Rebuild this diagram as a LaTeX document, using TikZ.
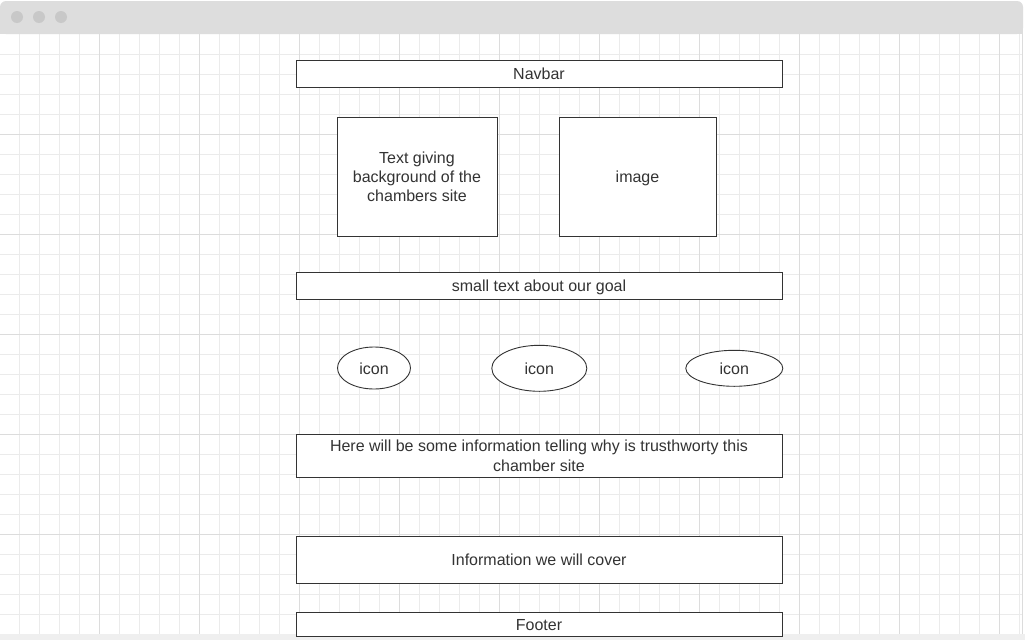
\documentclass[tikz,border=0pt]{standalone}
\usepackage{fontspec}
\setmainfont{Liberation Sans}
\usetikzlibrary{shapes.geometric}
\definecolor{txt}{HTML}{333333}
\definecolor{stroke}{HTML}{333333}
\definecolor{minorgrid}{HTML}{EBEBEB}
\definecolor{majorgrid}{HTML}{DCDCDC}
\definecolor{barfill}{HTML}{DDDDDD}
\definecolor{dotfill}{HTML}{C8C8C8}
\definecolor{stripfill}{HTML}{EFEFEF}
\begin{document}
\begin{tikzpicture}[x=1pt,y=-1pt,
  box/.style={draw=stroke, fill=white, line width=0.9pt, inner sep=0pt, align=center, text=txt, font=\fontsize{16}{19.2}\selectfont},
  oneline/.style={text height=12.5pt, text depth=0pt},
  oval/.style={ellipse, draw=stroke, fill=white, line width=0.9pt, inner sep=0pt, align=center, text=txt, font=\fontsize{16}{19.2}\selectfont, oneline},
  dot/.style={circle, fill=dotfill, inner sep=0pt, minimum size=12pt}]
\useasboundingbox (0,0) rectangle (1025,640);
\fill[white] (0,0) rectangle (1025,640);
% grid
\begin{scope}
\clip (0,34) rectangle (1022,634);
\foreach \i in {1,...,51} {\draw[minorgrid, line width=1pt] ({-0.5+20*\i},34) -- ({-0.5+20*\i},634);}
\foreach \j in {1,...,30} {\draw[minorgrid, line width=1pt] (0,{34+20*\j}) -- (1022,{34+20*\j});}
\foreach \i in {1,...,10} {\draw[majorgrid, line width=1pt] ({-0.5+100*\i},34) -- ({-0.5+100*\i},634);}
\foreach \j in {1,...,6} {\draw[majorgrid, line width=1pt] (0,{34+100*\j}) -- (1022,{34+100*\j});}
\end{scope}
% window frame
\fill[stripfill] (0,634) rectangle (1025,640);
\draw[majorgrid, line width=1pt] (1022.5,34) -- (1022.5,634);
\fill[barfill, rounded corners=6pt] (0,1) rectangle (1023,34);
\fill[barfill] (0,20) rectangle (1023,34);
\node[dot] (d1) at (17,17) {};
\node[dot] (d2) at (39,17) {};
\node[dot] (d3) at (61,17) {};
% boxes
\node[box, oneline, minimum width=486pt, minimum height=27pt] (nav) at (539,73.5) {Navbar};
\node[box, minimum width=160pt, minimum height=119pt] (bg) at (417,176.5) {Text giving\\background of the\\chambers site};
\node[box, oneline, minimum width=157pt, minimum height=119pt] (img) at (637.5,176.5) {image};
\node[box, oneline, minimum width=486pt, minimum height=27pt] (goal) at (539,285.5) {small text about our goal};
\node[oval, minimum width=73pt, minimum height=42pt] (icon1) at (374,368) {icon};
\node[oval, minimum width=95pt, minimum height=46pt] (icon2) at (539.3,368.3) {icon};
\node[oval, minimum width=97pt, minimum height=36pt] (icon3) at (734.3,368.3) {icon};
\node[box, minimum width=486pt, minimum height=43pt] (trust) at (539,455.7) {\raisebox{-1pt}{\parbox{480pt}{\centering Here will be some information telling why is trusthworty this\\chamber site}}};
\node[box, oneline, minimum width=486pt, minimum height=47pt] (info) at (539,559.7) {Information we will cover};
\node[box, oneline, minimum width=486pt, minimum height=24.5pt] (footer) at (539,624.5) {Footer};
\end{tikzpicture}
\end{document}
